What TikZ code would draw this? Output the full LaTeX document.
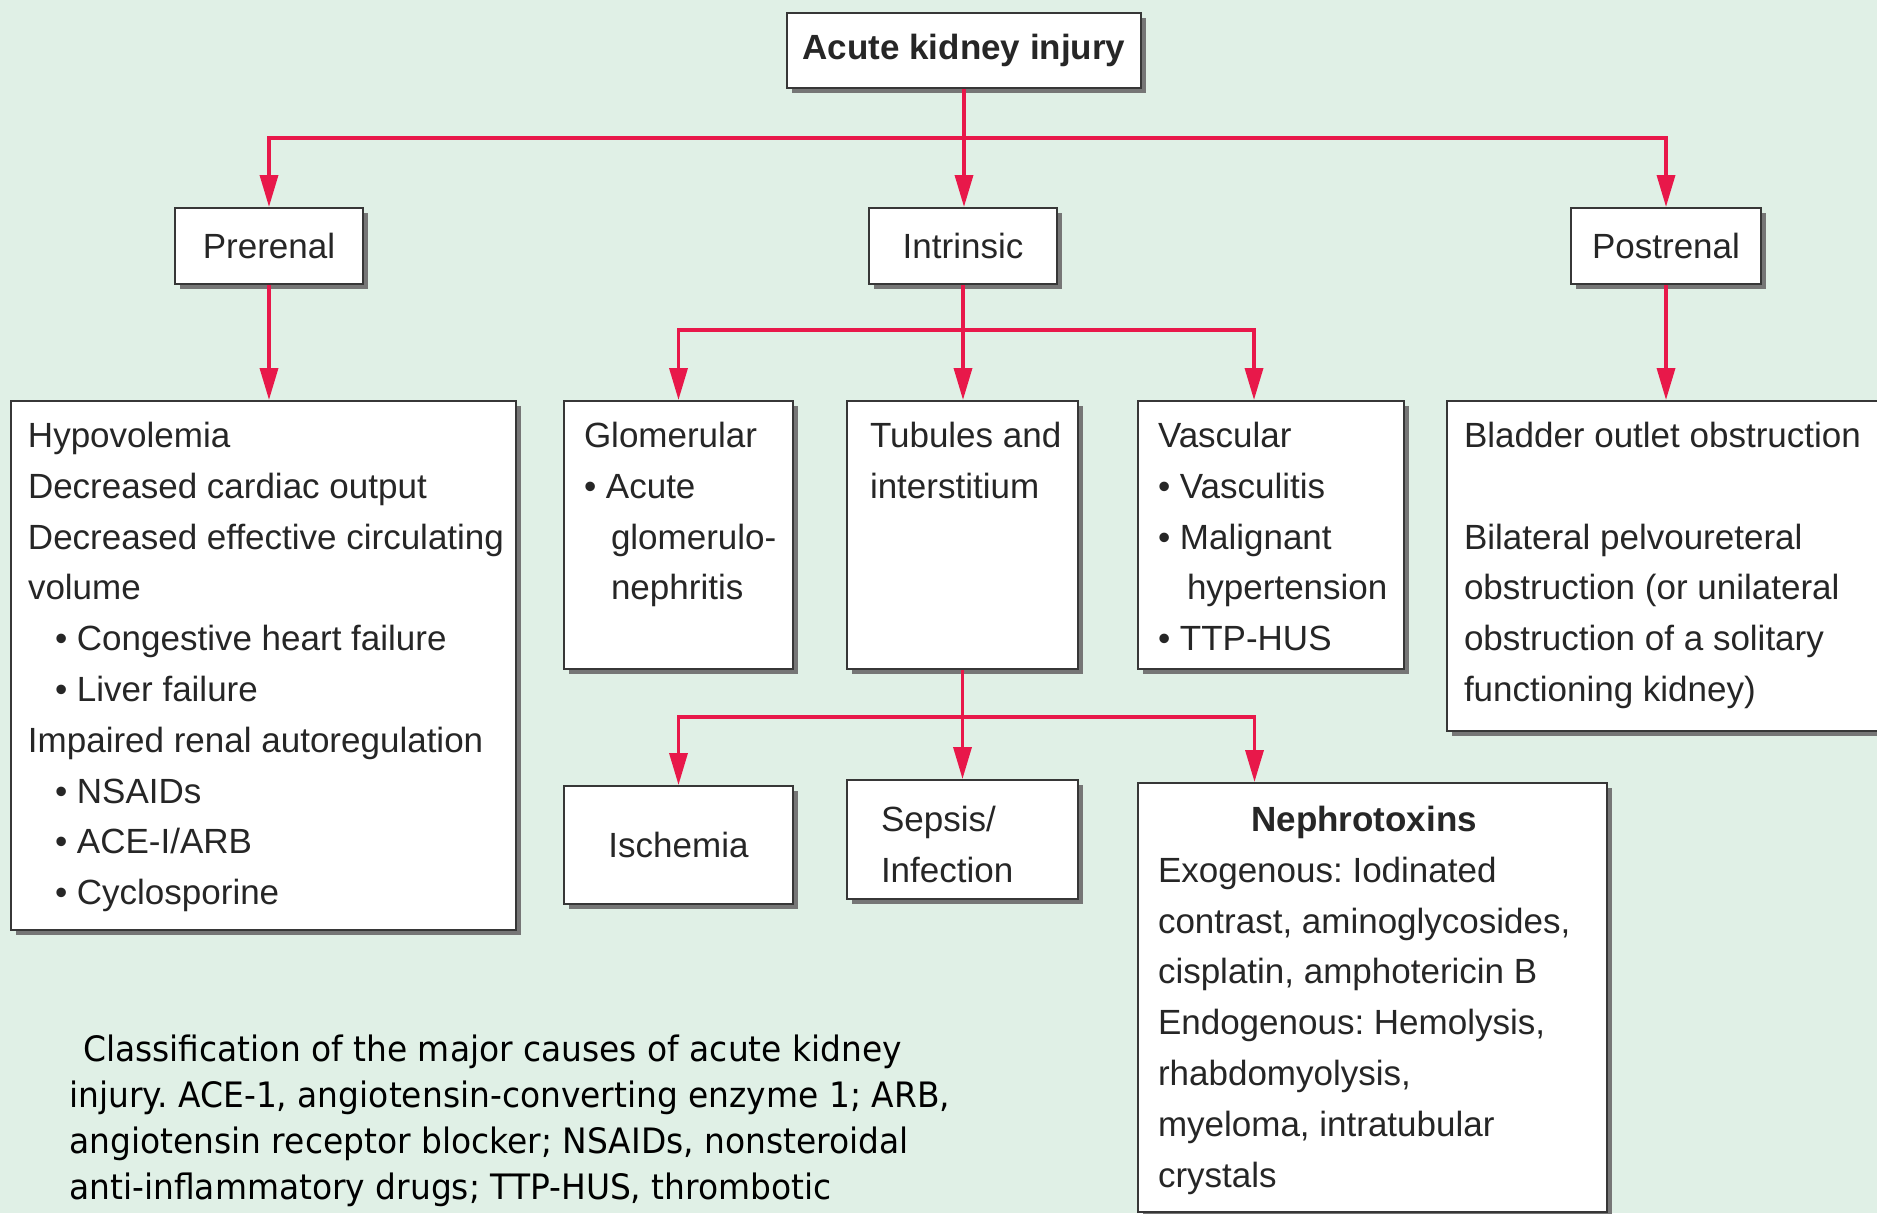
\documentclass[tikz,border=0pt]{standalone}
\usepackage{fontspec}
\setmainfont{Liberation Sans}
\newfontfamily\capfont[FakeStretch=0.94]{DejaVu Sans}
\usepackage{xcolor}
\usetikzlibrary{arrows.meta,shadows}
\frenchspacing

\definecolor{bgmint}{RGB}{224,240,230}
\definecolor{linkred}{RGB}{232,24,74}
\definecolor{boxline}{RGB}{55,55,55}
\definecolor{boxshade}{RGB}{118,118,118}

\newcommand{\boxfont}{\fontsize{35}{50.8}\selectfont}
\newcommand{\boxbody}[5]{\parbox[c][#2pt][t]{#1pt}{\vspace*{#4pt}\hspace*{#3pt}\begin{tabular}[t]{@{}l@{}}#5\end{tabular}}}

\begin{document}
\begin{tikzpicture}[x=1pt,y=-1pt,
  plain/.style={draw=boxline,line width=2pt,fill=white,anchor=north west,inner sep=0pt,
    drop shadow={shadow xshift=5pt,shadow yshift=-5pt,fill=boxshade,opacity=1},
    font=\boxfont,text=black!85},
  feed/.style={draw=linkred,line width=3.5pt,-{Triangle[width=18pt,length=32pt]}}]

\useasboundingbox (0,0) rectangle (1877,1213);
\clip (0,0) rectangle (1877,1213);
\fill[bgmint] (0,0) rectangle (1877,1213);

\node[plain,minimum width=354pt,minimum height=75pt,font=\boxfont\bfseries] (aki) at (786,12) {Acute kidney injury};

\node[plain,minimum width=188pt,minimum height=76pt] (prerenal) at (174,207) {Prerenal};
\node[plain,minimum width=188pt,minimum height=76pt] (intrinsic) at (868,207) {Intrinsic};
\node[plain,minimum width=190pt,minimum height=76pt] (postrenal) at (1570,207) {Postrenal};

\node[plain] (hypo) at (10,400) {\boxbody{505}{529}{17}{11}{Hypovolemia\\
  Decreased cardiac output\\
  Decreased effective circulating\\
  volume\\
  \hspace*{27pt}\textbullet\ Congestive heart failure\\
  \hspace*{27pt}\textbullet\ Liver failure\\
  Impaired renal autoregulation\\
  \hspace*{27pt}\textbullet\ NSAIDs\\
  \hspace*{27pt}\textbullet\ ACE-I/ARB\\
  \hspace*{27pt}\textbullet\ Cyclosporine}};

\node[plain] (glom) at (563,400) {\boxbody{229}{268}{20}{11}{Glomerular\\
  \textbullet\ Acute\\
  \hspace*{27pt}glomerulo-\\
  \hspace*{27pt}nephritis}};
\node[plain] (tubules) at (846,400) {\boxbody{231}{268}{23}{11}{Tubules and\\
  interstitium}};
\node[plain] (vasc) at (1137,400) {\boxbody{266}{268}{20}{11}{Vascular\\
  \textbullet\ Vasculitis\\
  \textbullet\ Malignant\\
  \hspace*{29pt}hypertension\\
  \textbullet\ TTP-HUS}};

\node[plain] (bladder) at (1446,400) {\boxbody{450}{330}{17}{11}{Bladder outlet obstruction\\
  \\
  Bilateral pelvoureteral\\
  obstruction (or unilateral\\
  obstruction of a solitary\\
  functioning kidney)}};

\node[plain,minimum width=229pt,minimum height=118pt] (ischemia) at (563,785) {Ischemia};
\node[plain] (sepsis) at (846,779) {\boxbody{231}{119}{34}{16}{Sepsis/\\
  Infection}};
\node[plain] (nephro) at (1137,782) {\boxbody{469}{429}{20}{13}{\multicolumn{1}{@{}c@{}}{\bfseries Nephrotoxins}\\
  Exogenous: Iodinated\\
  contrast, aminoglycosides,\\
  cisplatin, amphotericin B\\
  Endogenous: Hemolysis,\\
  rhabdomyolysis,\\
  myeloma, intratubular\\
  crystals}};

\node[anchor=base west,align=left,inner sep=0pt,text=black,
  font=\capfont\fontsize{35}{46}\selectfont] (caption) at (69,1199)
  {\hspace*{14pt}Classification of the major causes of acute kidney\\
  injury. ACE-1, angiotensin-converting enzyme 1; ARB,\\
  angiotensin receptor blocker; NSAIDs, nonsteroidal\\
  anti-inflammatory drugs; TTP-HUS, thrombotic};

\draw[feed] (aki.south) -- ++(0,49) -| (prerenal.north);
\draw[feed] (aki.south) -- ++(0,49) -| (postrenal.north);
\draw[feed] (aki.south) -- (aki.south |- intrinsic.north);

\draw[feed] (prerenal.south) -- (prerenal.south |- hypo.north);
\draw[feed] (postrenal.south) -- (postrenal.south |- bladder.north);

\draw[feed] (intrinsic.south) -- ++(0,45) -| (glom.north);
\draw[feed] (intrinsic.south) -- ++(0,45) -| ([xshift=-17pt]vasc.north);
\draw[feed] (intrinsic.south) -- (intrinsic.south |- tubules.north);

\draw[feed] (tubules.south) -- ++(0,47) -| (ischemia.north);
\draw[feed] (tubules.south) -- ++(0,47) -| ([xshift=-118pt]nephro.north);
\draw[feed] (tubules.south) -- (tubules.south |- sepsis.north);
\end{tikzpicture}
\end{document}
